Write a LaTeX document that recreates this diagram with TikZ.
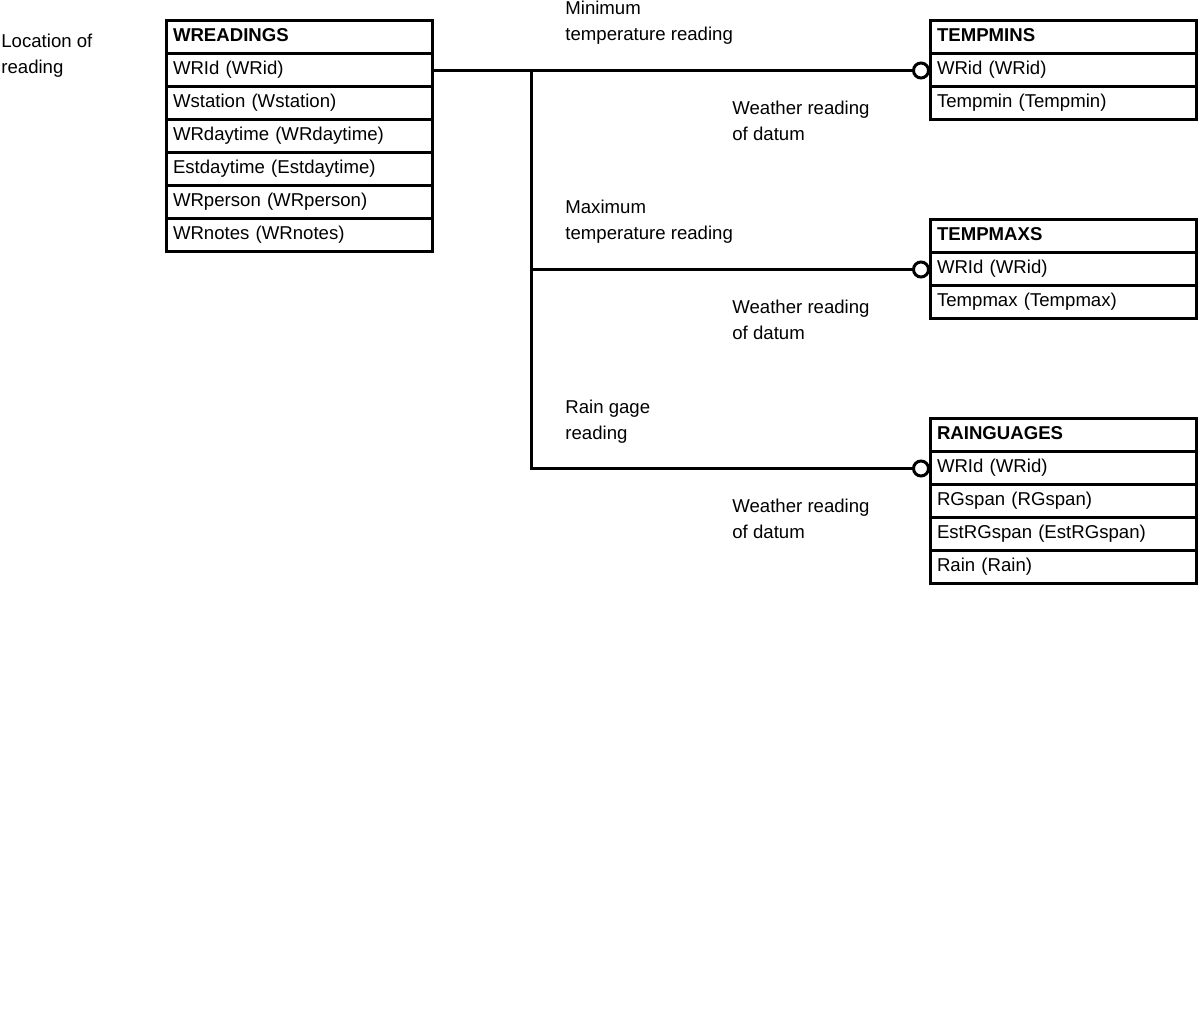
\documentclass[tikz,border=0pt]{standalone}
\usepackage{fontspec}
\setmainfont{Liberation Sans}
\usetikzlibrary{arrows.meta, positioning}

\begin{document}
\begin{tikzpicture}[
    x=0.5pt, y=-0.5pt,
    font=\fontsize{9.3}{13}\selectfont,
    field/.style={
        rectangle,
        draw=black,
        line width=1.5pt,
        outer sep=0pt,
        minimum width=133pt,
        minimum height=16.5pt,
        text width=126pt,
        inner xsep=3.5pt,
        inner ysep=0pt,
        text height=6.6pt,
        text depth=2.2pt,
        align=left
    },
    head/.style={field, font=\fontsize{9.3}{13}\selectfont\bfseries},
    note/.style={anchor=north west, inner sep=0pt, align=left},
    link/.style={line width=1.5pt, -{Circle[open, length=9pt, width=9pt]}}
]
    \useasboundingbox (0,0) rectangle (1200,1036);

    % Weather readings table
    \node[head, anchor=north west] (wr) at (166,21) {WREADINGS};
    \node[field, below=0pt of wr] (wr-id) {WRId (WRid)};
    \node[field, below=0pt of wr-id] (wr-station) {Wstation (Wstation)};
    \node[field, below=0pt of wr-station] (wr-day) {WRdaytime (WRdaytime)};
    \node[field, below=0pt of wr-day] (wr-est) {Estdaytime (Estdaytime)};
    \node[field, below=0pt of wr-est] (wr-person) {WRperson (WRperson)};
    \node[field, below=0pt of wr-person] (wr-notes) {WRnotes (WRnotes)};

    % Minimum temperature table
    \node[head, anchor=north west] (tmin) at (930,21) {TEMPMINS};
    \node[field, below=0pt of tmin] (tmin-id) {WRid (WRid)};
    \node[field, below=0pt of tmin-id] (tmin-val) {Tempmin (Tempmin)};

    % Maximum temperature table
    \node[head, anchor=north west] (tmax) at (930,220) {TEMPMAXS};
    \node[field, below=0pt of tmax] (tmax-id) {WRId (WRid)};
    \node[field, below=0pt of tmax-id] (tmax-val) {Tempmax (Tempmax)};

    % Rain gauge table
    \node[head, anchor=north west] (rain) at (930,419) {RAINGUAGES};
    \node[field, below=0pt of rain] (rain-id) {WRId (WRid)};
    \node[field, below=0pt of rain-id] (rain-span) {RGspan (RGspan)};
    \node[field, below=0pt of rain-span] (rain-est) {EstRGspan (EstRGspan)};
    \node[field, below=0pt of rain-est] (rain-val) {Rain (Rain)};

    % Relationship lines
    \coordinate (fork) at (531,70.5);
    \draw[link] (wr-id.east) -- (tmin-id.west);
    \draw[link] (fork) |- (tmax-id.west);
    \draw[link] (fork) |- (rain-id.west);

    % Role labels
    \node[note] (loc) at (1,34) {Location of\\reading};
    \node[note] (min-lbl) at (565,1) {Minimum\\temperature reading};
    \node[note] (min-of) at (732,101) {Weather reading\\of datum};
    \node[note] (max-lbl) at (565,200) {Maximum\\temperature reading};
    \node[note] (max-of) at (732,300) {Weather reading\\of datum};
    \node[note] (rain-lbl) at (565,400) {Rain gage\\reading};
    \node[note] (rain-of) at (732,499) {Weather reading\\of datum};

\end{tikzpicture}
\end{document}
